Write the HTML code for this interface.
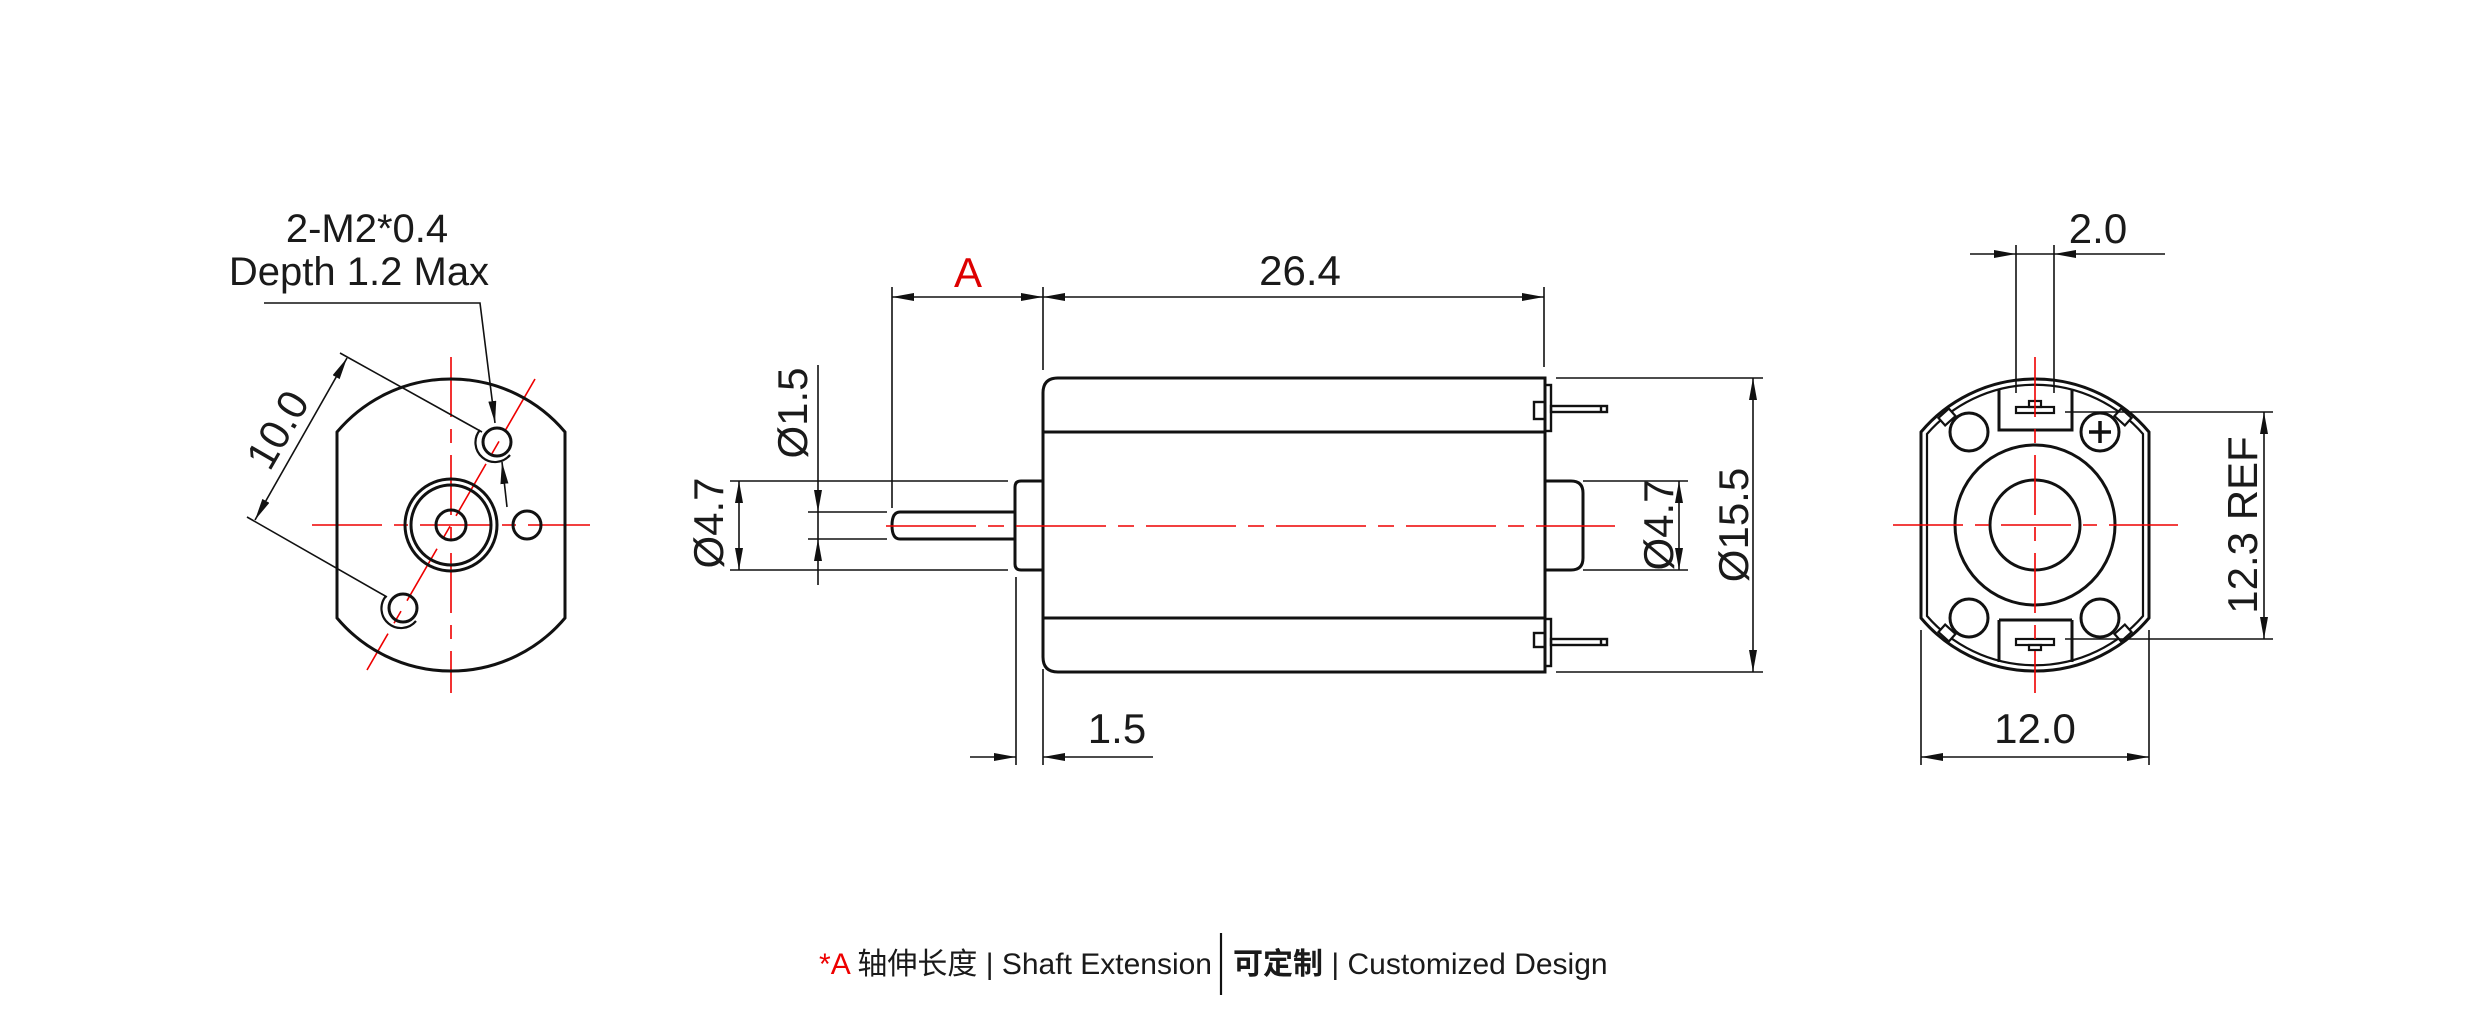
<!DOCTYPE html>
<html><head><meta charset="utf-8"><style>
html,body{margin:0;padding:0;background:#fff;}
svg{display:block;}
text{font-family:"Liberation Sans","Noto Sans CJK SC",sans-serif;fill:#1a1a1a;}
.n{font-family:"Liberation Sans Narrow","Liberation Sans",sans-serif;}
</style></head><body>
<svg width="2481" height="1015" viewBox="0 0 2481 1015" xmlns="http://www.w3.org/2000/svg">
<defs>
<marker id="a" viewBox="0 0 22 8" refX="22" refY="4" markerWidth="22" markerHeight="8" markerUnits="userSpaceOnUse" orient="auto-start-reverse"><path d="M0,0 L22,4 L0,8 Z" fill="#111"/></marker>
</defs>
<rect width="2481" height="1015" fill="#fff"/>

<g stroke="#e00" stroke-width="1.6" fill="none">
<line x1="312" y1="525" x2="590" y2="525" stroke-dasharray="70 12 14 12"/>
<line x1="451" y1="357" x2="451" y2="693" stroke-dasharray="60 12 14 12"/>
<line x1="535" y1="379" x2="367" y2="670" stroke-dasharray="60 12 14 12"/>
</g>
<g stroke="#111" fill="none" stroke-width="3">
<path d="M337,432 A149,149 0 0 1 565,432 V618 A149,149 0 0 1 337,618 Z"/>
<circle cx="451" cy="525" r="46"/>
<circle cx="451" cy="525" r="40"/>
<circle cx="451" cy="525" r="15"/>
<circle cx="527" cy="525" r="14"/>
<circle cx="497" cy="442" r="14"/>
<path d="M510,455 A19,19 0 1 1 480,430" stroke-width="2.2"/>
<circle cx="403" cy="608" r="14"/>
<path d="M416,621 A19,19 0 1 1 386,596" stroke-width="2.2"/>
</g>
<g stroke="#111" stroke-width="1.6" fill="none">
<polyline points="264,303 480,303 495,423" marker-end="url(#a)"/>
<line x1="507" y1="507" x2="502" y2="462" marker-end="url(#a)"/>
<line x1="340" y1="353" x2="482" y2="432"/>
<line x1="247" y1="517" x2="387" y2="597"/>
<line x1="255" y1="520" x2="347" y2="358" marker-start="url(#a)" marker-end="url(#a)"/>
</g>
<text x="367" y="242" font-size="40" text-anchor="middle">2-M2*0.4</text>
<text x="359" y="285" font-size="40" text-anchor="middle">Depth 1.2 Max</text>
<text class="n" x="0" y="0" font-size="42" text-anchor="middle" transform="translate(290,437) rotate(-60)">10.0</text>

<g stroke="#111" fill="none" stroke-width="3">
<path d="M1058,378 H1545 V672 H1058 Q1043,672 1043,657 V393 Q1043,378 1058,378 Z"/>
<line x1="1043" y1="432" x2="1545" y2="432"/>
<line x1="1043" y1="618" x2="1545" y2="618"/>
<path d="M1043,481 H1021 Q1015,481 1015,487 V564 Q1015,570 1021,570 H1043"/>
<path d="M1015,512 H900 Q892,512 892,525.5 Q892,539 900,539 H1015"/>
<path d="M1545,481 H1571 Q1583,481 1583,493 V558 Q1583,570 1571,570 H1545"/>
<g stroke-width="2.4">
<rect x="1545" y="385" width="6" height="46"/>
<rect x="1534" y="402" width="11" height="17"/>
<rect x="1551" y="406" width="56" height="6"/>
<line x1="1601" y1="406" x2="1601" y2="412"/>
<rect x="1545" y="619" width="6" height="47"/>
<rect x="1534" y="633" width="11" height="14"/>
<rect x="1551" y="639" width="56" height="6"/>
<line x1="1601" y1="639" x2="1601" y2="645"/>
</g>
</g>
<line x1="886" y1="526" x2="1615" y2="526" stroke="#e00" stroke-width="1.6" stroke-dasharray="90 12 16 12"/>
<g stroke="#111" stroke-width="1.6" fill="none">
<line x1="892" y1="287" x2="892" y2="508"/>
<line x1="1043" y1="287" x2="1043" y2="370"/>
<line x1="1544" y1="287" x2="1544" y2="367"/>
<line x1="892" y1="297" x2="1043" y2="297" marker-start="url(#a)" marker-end="url(#a)"/>
<line x1="1043" y1="297" x2="1544" y2="297" marker-start="url(#a)" marker-end="url(#a)"/>
<line x1="730" y1="481" x2="1008" y2="481"/>
<line x1="730" y1="570" x2="1008" y2="570"/>
<line x1="739" y1="481" x2="739" y2="570" marker-start="url(#a)" marker-end="url(#a)"/>
<line x1="808" y1="512" x2="887" y2="512"/>
<line x1="808" y1="539" x2="887" y2="539"/>
<line x1="818" y1="365" x2="818" y2="512" marker-end="url(#a)"/>
<line x1="818" y1="585" x2="818" y2="539" marker-end="url(#a)"/>
<line x1="818" y1="512" x2="818" y2="539"/>
<line x1="1016" y1="577" x2="1016" y2="765"/>
<line x1="1043" y1="669" x2="1043" y2="765"/>
<line x1="970" y1="757" x2="1016" y2="757" marker-end="url(#a)"/>
<line x1="1153" y1="757" x2="1043" y2="757" marker-end="url(#a)"/>
<line x1="1583" y1="481" x2="1688" y2="481"/>
<line x1="1583" y1="570" x2="1688" y2="570"/>
<line x1="1679" y1="481" x2="1679" y2="570" marker-start="url(#a)" marker-end="url(#a)"/>
<line x1="1556" y1="378" x2="1763" y2="378"/>
<line x1="1556" y1="672" x2="1763" y2="672"/>
<line x1="1753" y1="378" x2="1753" y2="672" marker-start="url(#a)" marker-end="url(#a)"/>
</g>
<text x="968" y="287" font-size="42" text-anchor="middle" style="fill:#d00">A</text>
<text class="n" x="1300" y="285" font-size="42" text-anchor="middle">26.4</text>
<text class="n" x="1117" y="743" font-size="42" text-anchor="middle">1.5</text>
<text class="n" font-size="42" text-anchor="middle" transform="translate(723,523) rotate(-90)">Ø4.7</text>
<text class="n" font-size="42" text-anchor="middle" transform="translate(807,413) rotate(-90)">Ø1.5</text>
<text class="n" font-size="42" text-anchor="middle" transform="translate(1673,525) rotate(-90)">Ø4.7</text>
<text class="n" font-size="42" text-anchor="middle" transform="translate(1748,525) rotate(-90)">Ø15.5</text>

<g stroke="#111" fill="none" stroke-width="3">
<path d="M1921,432 A149,149 0 0 1 2149,432 V618 A149,149 0 0 1 1921,618 Z"/>
<path d="M1927,434 A143,143 0 0 1 2143,434 V616 A143,143 0 0 1 1927,616 Z" stroke-width="2.2"/>
<circle cx="2035" cy="525" r="80"/>
<circle cx="2035" cy="525" r="45"/>
<circle cx="1969" cy="432" r="19"/>
<circle cx="2100" cy="432" r="19"/>
<circle cx="1969" cy="618" r="19"/>
<circle cx="2100" cy="618" r="19"/>
<line x1="2100" y1="421" x2="2100" y2="443" stroke-width="3.5"/>
<line x1="2089" y1="432" x2="2111" y2="432" stroke-width="3.5"/>
<path d="M1999,390 V430 H2072 V390" />
<path d="M1999,620 V662 M2072,620 V662 M1999,620 H2072"/>
<g stroke-width="2.2">
<rect x="2016" y="407" width="38" height="6"/>
<rect x="2029" y="401" width="12" height="6"/>
<rect x="2016" y="639" width="38" height="6"/>
<rect x="2029" y="645" width="12" height="5"/>
<rect x="-7" y="-5" width="14" height="10" transform="translate(1947,417) rotate(-42)" fill="#fff"/>
<rect x="-7" y="-5" width="14" height="10" transform="translate(2123,417) rotate(42)" fill="#fff"/>
<rect x="-7" y="-5" width="14" height="10" transform="translate(1947,633) rotate(42)" fill="#fff"/>
<rect x="-7" y="-5" width="14" height="10" transform="translate(2123,633) rotate(-42)" fill="#fff"/>
</g>
</g>
<g stroke="#e00" stroke-width="1.6" fill="none">
<line x1="1893" y1="525" x2="2178" y2="525" stroke-dasharray="70 12 14 12"/>
<line x1="2035" y1="357" x2="2035" y2="693" stroke-dasharray="60 12 14 12"/>
</g>
<g stroke="#111" stroke-width="1.6" fill="none">
<line x1="2016" y1="245" x2="2016" y2="393"/>
<line x1="2054" y1="245" x2="2054" y2="393"/>
<line x1="1970" y1="254" x2="2016" y2="254" marker-end="url(#a)"/>
<line x1="2165" y1="254" x2="2054" y2="254" marker-end="url(#a)"/>
<line x1="2016" y1="254" x2="2054" y2="254"/>
<line x1="2065" y1="412" x2="2273" y2="412"/>
<line x1="2065" y1="639" x2="2273" y2="639"/>
<line x1="2264" y1="412" x2="2264" y2="639" marker-start="url(#a)" marker-end="url(#a)"/>
<line x1="1921" y1="630" x2="1921" y2="765"/>
<line x1="2149" y1="630" x2="2149" y2="765"/>
<line x1="1921" y1="757" x2="2149" y2="757" marker-start="url(#a)" marker-end="url(#a)"/>
</g>
<text class="n" x="2098" y="243" font-size="42" text-anchor="middle">2.0</text>
<text class="n" x="2035" y="743" font-size="42" text-anchor="middle">12.0</text>
<text class="n" font-size="42" text-anchor="middle" transform="translate(2257,525) rotate(-90)">12.3 REF</text>

<line x1="1221" y1="933" x2="1221" y2="995" stroke="#111" stroke-width="2.2"/>
<text x="1212" y="974" font-size="30" text-anchor="end"><tspan style="fill:#e00">*A</tspan> 轴伸长度 | Shaft Extension</text>
<text x="1233" y="974" font-size="30"><tspan font-weight="bold">可定制</tspan> | Customized Design</text>
</svg>
</body></html>
